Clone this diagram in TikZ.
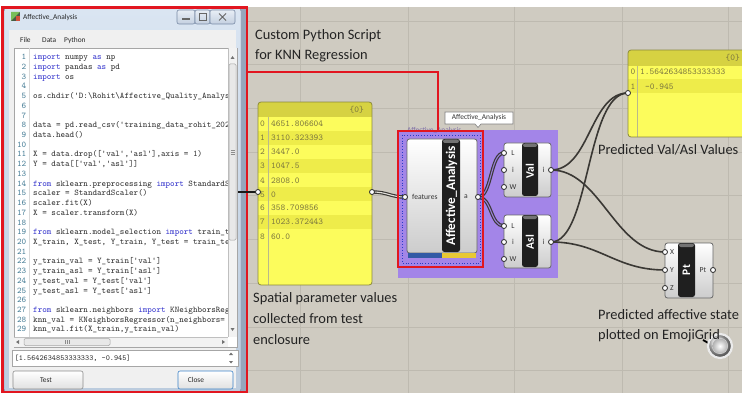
\documentclass[tikz,border=0pt]{standalone}
\usepackage{fontspec}
\setmainfont{Carlito}
\setsansfont{Carlito}
\definecolor{canvas}{RGB}{207,203,193}
\definecolor{gridc}{RGB}{190,186,176}
\definecolor{gred}{RGB}{226,22,32}
\definecolor{grp}{RGB}{163,133,232}
\definecolor{pyel}{RGB}{252,252,92}
\definecolor{pyel2}{RGB}{238,236,74}
\definecolor{phead}{RGB}{214,210,66}
\definecolor{pborder}{RGB}{140,138,60}
\definecolor{ptext}{RGB}{125,120,62}
\definecolor{wire}{RGB}{58,56,52}
\definecolor{wframeD}{RGB}{150,166,188}
\definecolor{kwblue}{RGB}{55,55,205}
\definecolor{lnum}{RGB}{70,125,150}
\definecolor{codec}{RGB}{50,50,50}
\definecolor{notec}{RGB}{35,35,35}
\definecolor{dotblue}{RGB}{40,60,200}
\definecolor{wbtnD}{RGB}{120,138,165}
\definecolor{wbtnT}{RGB}{232,238,246}
\definecolor{wbtnB}{RGB}{196,208,224}
\definecolor{wtop}{RGB}{218,229,242}
\definecolor{wbot}{RGB}{188,204,222}
\definecolor{wdraw}{RGB}{115,132,158}
\definecolor{icA}{RGB}{70,90,70}
\definecolor{icB}{RGB}{120,190,90}
\definecolor{icC}{RGB}{210,80,60}
\definecolor{client}{RGB}{240,240,240}
\definecolor{cbtn}{RGB}{60,130,200}
\definecolor{grpl}{RGB}{105,85,160}
\definecolor{wirep}{RGB}{150,125,215}
\definecolor{barblue}{RGB}{50,90,165}
\definecolor{baryel}{RGB}{232,200,52}
\newcommand\kwd[1]{{\color{kwblue}#1}}
\newcommand\squote{\textquotesingle}
\newcommand\codeline[2]{\node[codetxt] (c#1) at (33,{59.8+(#1-1)*9.72}) {#2};}
\begin{document}
\begin{tikzpicture}[x=1pt,y=-1pt,
  codetxt/.style={anchor=base west,inner sep=0,text=codec,font=\ttfamily\fontsize{8.7}{9}\selectfont},
  lnumtxt/.style={anchor=base east,inner sep=0,text=lnum,font=\ttfamily\fontsize{8.7}{9}\selectfont},
  ui/.style={inner sep=0,text=black!85,font=\fontsize{7.4}{8}\selectfont},
  note/.style={anchor=base west,inner sep=0,text=notec,font=\fontsize{14.4}{16}\selectfont},
  ptxt/.style={anchor=base west,inner sep=0,text=ptext,font=\ttfamily\fontsize{9}{10}\selectfont},
  body/.style={draw=black!60,line width=0.8,rounded corners=2.5,top color=white,bottom color=black!20},
  namebar/.style={fill=black!88,rounded corners=2.5},
  grip/.style={circle,draw=black!85,fill=white,line width=0.8,inner sep=0,minimum size=5},
  port/.style={inner sep=0,text=black!80,font=\fontsize{7.6}{8}\selectfont},
  cname/.style={inner sep=0,rotate=90,text=white,font=\bfseries\fontsize{11.5}{12}\selectfont},
  swire/.style={draw=wire,line width=1.6},
  listwire/.style={draw=wire,line width=3.4,postaction={draw=#1,line width=1.1}},
  winbtn/.style={draw=wbtnD,rounded corners=2,top color=wbtnT,bottom color=wbtnB,line width=0.6},
  button/.style={draw=black!45,rounded corners=2,top color=white,bottom color=black!12,line width=0.6}
]
\useasboundingbox (0,0) rectangle (742,393);
\fill[white] (0,0) rectangle (742,393);
% canvas and grid
\fill[canvas] (247,7) rectangle (742,393);
\foreach \gx in {300,408,514,622,728} \draw[gridc,line width=0.8] (\gx,7) -- (\gx,393);
\foreach \gy in {21,64.5,108,152,195.5,239,283,327,370} \draw[gridc,line width=0.8] (247,\gy) -- (742,\gy);

% ---------------- script window ----------------
\fill[wframeD] (2,7) rectangle (247,393);
\shade[top color=wtop,bottom color=wbot,draw=wdraw,rounded corners=3] (4,8) rectangle (241,392);
% icon + title
\fill[icA] (11,12) rectangle (20,21);
\fill[icB] (11,12) -- (20,12) -- (11,21) -- cycle;
\fill[icC] (15.5,16.5) rectangle (20,21);
\node[ui,anchor=west] (wtitle) at (23,17.5) {Affective\_Analysis};
% window buttons
\draw[winbtn] (177,10) rectangle (195,24);
\draw[winbtn] (195,10) rectangle (210,24);
\draw[winbtn] (210,10) rectangle (235,24);
\draw[black!60,line width=1.2] (182,19) -- (190,19);
\draw[black!60,line width=0.8] (199,13.5) rectangle (206,20);
\draw[black!60,line width=0.9] (219,13.5) -- (226,20.5) (226,13.5) -- (219,20.5);
% client area
\fill[client] (9,30) rectangle (236,388);
\node[ui,anchor=base west] (mFile) at (20,43) {File};
\node[ui,anchor=base west] (mData) at (42,43) {Data};
\node[ui,anchor=base west] (mPy) at (64,43) {Python};
% code box
\draw[fill=white,draw=black!35,line width=0.6] (14,48) rectangle (237,347);
\draw[black!15] (29.5,48) -- (29.5,337);
\begin{scope}
\clip (14,48) rectangle (228,337);
\foreach \n in {1,...,29} \node[lnumtxt] (n\n) at (26.5,{59.8+(\n-1)*9.72}) {\n};
\codeline{1}{\kwd{import} numpy \kwd{as} np}
\codeline{2}{\kwd{import} pandas \kwd{as} pd}
\codeline{3}{\kwd{import} os}
\codeline{5}{os.chdir(\squote{}D:\textbackslash{}Rohit\textbackslash{}Affective\_Quality\_Analysis}
\codeline{8}{data = pd.read\_csv(\squote{}training\_data\_rohit\_2020}
\codeline{9}{data.head()}
\codeline{11}{X = data.drop([\squote{}val\squote{},\squote{}asl\squote{}],axis = 1)}
\codeline{12}{Y = data[[\squote{}val\squote{},\squote{}asl\squote{}]]}
\codeline{14}{\kwd{from} sklearn.preprocessing \kwd{import} StandardScaler}
\codeline{15}{scaler = StandardScaler()}
\codeline{16}{scaler.fit(X)}
\codeline{17}{X = scaler.transform(X)}
\codeline{19}{\kwd{from} sklearn.model\_selection \kwd{import} train\_test\_split}
\codeline{20}{X\_train, X\_test, Y\_train, Y\_test = train\_test\_split}
\codeline{22}{y\_train\_val = Y\_train[\squote{}val\squote{}]}
\codeline{23}{y\_train\_asl = Y\_train[\squote{}asl\squote{}]}
\codeline{24}{y\_test\_val = Y\_test[\squote{}val\squote{}]}
\codeline{25}{y\_test\_asl = Y\_test[\squote{}asl\squote{}]}
\codeline{27}{\kwd{from} sklearn.neighbors \kwd{import} KNeighborsRegressor}
\codeline{28}{knn\_val = KNeighborsRegressor(n\_neighbors=}
\codeline{29}{knn\_val.fit(X\_train,y\_train\_val)}
\end{scope}
% scrollbars
\fill[black!5] (228,48) rectangle (237,337);
\draw[black!25] (228,48) -- (228,337);
\draw[fill=black!9,draw=black!35,rounded corners=1.2,line width=0.5] (229,64) rectangle (236,240);
\draw[black!45,line width=0.5] (230.5,150) -- (234.5,150) (230.5,152) -- (234.5,152) (230.5,154) -- (234.5,154);
\fill[black!55] (230.5,59) -- (234.5,59) -- (232.5,56) -- cycle;
\fill[black!55] (230.5,328) -- (234.5,328) -- (232.5,331) -- cycle;
\fill[black!5] (14,337) rectangle (228,347);
\draw[black!25] (14,337) -- (228,337);
\draw[fill=black!9,draw=black!35,rounded corners=1.2,line width=0.5] (24,338.5) rectangle (110,345.5);
\draw[black!45,line width=0.5] (65,340) -- (65,344) (67,340) -- (67,344) (69,340) -- (69,344);
\fill[black!55] (19,340) -- (19,344) -- (16,342) -- cycle;
\fill[black!55] (222,340) -- (222,344) -- (225,342) -- cycle;
% output field
\draw[fill=white,draw=black!35,line width=0.6] (12,350) rectangle (238,366);
\node[anchor=base west,inner sep=0,text=codec,font=\ttfamily\fontsize{7.8}{8}\selectfont] (outtxt) at (14.5,360.5) {[1.5642634853333333, -0.945]};
\fill[black!55] (229,355) -- (233,355) -- (231,352.5) -- cycle;
\fill[black!55] (229,361) -- (233,361) -- (231,363.5) -- cycle;
% buttons
\draw[button] (13,371) rectangle (83,389);
\node[ui] (btest) at (46,380) {Test};
\draw[button,draw=cbtn] (178,371) rectangle (233,389);
\node[ui] (bclose) at (196,380) {Close};
% red frame around script window
\draw[gred,line width=2.6] (2.5,7.5) rectangle (247,392);

% ---------------- Grasshopper canvas ----------------
% group
\fill[grp] (398,130) rectangle (558,278);
\node[inner sep=0,text=grpl,opacity=0.8,font=\fontsize{7.4}{8}\selectfont,anchor=base west] (grplbl) at (407,133) {Affective\_Analysis};

% panel 1
\begin{scope}
\clip[rounded corners=3] (258,102) rectangle (372,285);
\fill[pyel] (258,102) rectangle (372,285);
\fill[phead] (258,102) rectangle (372,117);
\foreach \i in {1,3,5,7} \fill[pyel2] (258,{117+14*\i}) rectangle (372,{131+14*\i});
\draw[pborder!60,line width=0.5] (268,117) -- (268,285);
\end{scope}
\draw[pborder,rounded corners=3,line width=0.8] (258,102) rectangle (372,285);
\node[anchor=base east,inner sep=0,text=ptext,font=\ttfamily\fontsize{9}{10}\selectfont] (p1hd) at (364,112.5) {\{0\}};
\foreach \i/\v in {0/4651.806604,1/3110.323393,2/3447.0,3/1047.5,4/2808.0,5/0,6/358.709856,7/1023.372443,8/60.0}{
  \node[ptxt] (p1i\i) at (260,{127+14*\i}) {\i};
  \node[ptxt] (p1v\i) at (271,{127+14*\i}) {\v};
}

% panel 2
\begin{scope}
\clip (600,40) rectangle (742,140);
\begin{scope}
\clip[rounded corners=3] (628,50) rectangle (752,137);
\fill[pyel] (628,50) rectangle (752,137);
\fill[phead] (628,50) rectangle (752,66);
\fill[pyel2] (628,79) rectangle (752,93);
\draw[pborder!60,line width=0.5] (637,66) -- (637,137);
\end{scope}
\draw[pborder,rounded corners=3,line width=0.8] (628,50) rectangle (752,137);
\end{scope}
\node[anchor=base east,inner sep=0,text=ptext,font=\ttfamily\fontsize{9}{10}\selectfont] (p2hd) at (740,61) {\{0\}};
\node[ptxt] (p2i0) at (630.5,75) {0};
\node[ptxt] (p2v0) at (640,75) {1.5642634853333333};
\node[ptxt] (p2i1) at (630.5,89.5) {1};
\node[ptxt] (p2v1) at (645,89.5) {-0.945};

% grips coordinates
\coordinate (src) at (238,192);
\coordinate (p1in) at (258,192);
\coordinate (p1out) at (372,192);
\coordinate (aain) at (405,197);
\coordinate (aaout) at (478,197);
\coordinate (valL) at (504,153);
\coordinate (valI) at (504,170);
\coordinate (valW) at (504,187);
\coordinate (valout) at (551,170);
\coordinate (aslL) at (504,226);
\coordinate (aslI) at (504,242);
\coordinate (aslW) at (504,259);
\coordinate (aslout) at (551,242);
\coordinate (p2in) at (628,93);
\coordinate (ptX) at (665,252);
\coordinate (ptY) at (665,270);
\coordinate (ptZ) at (665,288);
\coordinate (ptout) at (713,270);

% wires
\draw[draw=black!90,line width=2.6] (src) -- (p1in);
\draw[listwire=canvas!60!white] (p1out) .. controls (388,192) and (390,197) .. (aain);
\draw[listwire=wirep] (aaout) .. controls (492,197) and (490,153) .. (valL);
\draw[listwire=wirep] (aaout) .. controls (492,197) and (490,226) .. (aslL);
\draw[swire] (valout) .. controls (590,170) and (590,93) .. (p2in);
\draw[swire] (aslout) .. controls (590,242) and (586,93) .. (p2in);
\draw[swire] (valout) .. controls (600,170) and (615,252) .. (ptX);
\draw[swire] (aslout) .. controls (600,242) and (615,270) .. (ptY);

% Affective_Analysis component
\draw[body] (407,139) rectangle (477,253);
\fill[barblue] (408,252.5) rectangle (442,257.5);
\fill[baryel] (442,252.5) rectangle (476,257.5);
\fill[namebar] (442,139) rectangle (460,252);
\fill[black!55,rounded corners=2] (443,139.5) rectangle (459,143);
\node[cname,font=\bfseries\fontsize{13.2}{14}\selectfont] (aaname) at (451.5,196) {Affective\_Analysis};
\node[port,anchor=west] (aafeat) at (412,197) {features};
\node[port] (aaa) at (466,197) {a};
\node[grip] (gaain) at (aain) {};
\node[grip] (gaaout) at (aaout) {};

% Val component
\draw[body] (504,143) rectangle (551,197);
\fill[namebar] (522,143) rectangle (538,196);
\fill[black!55,rounded corners=2] (523,143.5) rectangle (537,147);
\node[cname] (valname) at (530,171) {Val};
\node[port] (vL) at (513,153) {L};
\node[port] (vi) at (513,170) {i};
\node[port] (vW) at (513,187) {W};
\node[port] (vo) at (543.5,170) {i};
\foreach \g in {valL,valI,valW,valout} \node[grip] (g\g) at (\g) {};

% Asl component
\draw[body] (504,215) rectangle (551,268);
\fill[namebar] (522,215) rectangle (538,267);
\fill[black!55,rounded corners=2] (523,215.5) rectangle (537,219);
\node[cname] (aslname) at (530,242) {Asl};
\node[port] (aL) at (513,226) {L};
\node[port] (ai) at (513,242) {i};
\node[port] (aW) at (513,259) {W};
\node[port] (ao) at (543.5,242) {i};
\foreach \g in {aslL,aslI,aslW,aslout} \node[grip] (g\g) at (\g) {};

% Pt component
\draw[body] (665,243) rectangle (713,298);
\fill[namebar] (678,243) rectangle (695,297);
\fill[black!55,rounded corners=2] (679,243.5) rectangle (694,247);
\node[cname] (ptname) at (686.5,270) {Pt};
\node[port] (pX) at (672,252) {X};
\node[port] (pY) at (672,270) {Y};
\node[port] (pZ) at (672,288) {Z};
\node[port] (pPt) at (703,270) {Pt};
\foreach \g in {ptX,ptY,ptZ,ptout} \node[grip] (g\g) at (\g) {};

% panel grips
\node[grip] (gp1in) at (p1in) {};
\node[grip] (gp1out) at (p1out) {};
\node[grip] (gp2in) at (p2in) {};

% dotted selection and red highlight
\draw[dotblue,dotted,line width=0.8] (402,135) rectangle (480,263);
\draw[gred,line width=2.6] (398,131) rectangle (483,267);
\draw[gred,line width=2.6] (247,72) -- (438,72) -- (438,131);

% tooltip
\draw[fill=white,draw=black!50,line width=0.6] (445,112) -- (513,112) -- (513,124) -- (481,124) -- (478,127.5) -- (475,124) -- (445,124) -- cycle;
\node[ui,text=black!80] (tip) at (479,118) {Affective\_Analysis};

% emoji grid point
\draw[black,line width=1.8] (703,340) -- (710,344);
\shade[ball color=black!25] (720,346) circle (12);
\draw[white!92!black,line width=2.2] (720,346) circle (12);
\fill[white!85!black] (720,346) circle (8);
\shade[inner color=white,outer color=black!30] (720,346) circle (7.5);

% notes
\node[note] (n1a) at (255,39.5) {Custom Python Script};
\node[note] (n1b) at (255,59.5) {for KNN Regression};
\node[note] (n2a) at (253,302.5) {Spatial parameter values};
\node[note] (n2b) at (253,323.5) {collected from test};
\node[note] (n2c) at (253,344.5) {enclosure};
\node[note] (n3) at (598,154.5) {Predicted Val/Asl Values};
\node[note] (n4a) at (598,319.5) {Predicted affective state};
\node[note] (n4b) at (598,339.5) {plotted on EmojiGrid};
\end{tikzpicture}
\end{document}
